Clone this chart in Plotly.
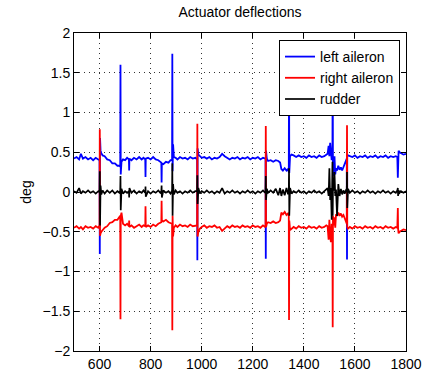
import plotly.graph_objects as go

# shared time base (s)
t = [500, 510, 520, 527, 535, 545, 555, 565, 575, 585, 595,
     600, 601, 602, 604, 607, 612, 620, 630, 640, 650, 660, 670, 678,
     681, 682, 683, 686, 692, 700, 708,
     715, 716, 717, 725, 735, 745, 755, 765, 772,
     779, 780, 781, 790, 800, 810, 820, 830, 838,
     842, 843, 844, 850, 860, 870, 878,
     884, 885, 886, 888, 891, 898, 905, 915, 925, 935, 945, 955, 965, 975,
     982, 983, 984, 987, 993, 1000, 1010, 1020, 1030, 1040, 1050, 1060, 1070, 1080, 1090, 1100,
     1110, 1120, 1130, 1140, 1150, 1160, 1170, 1180, 1190, 1200, 1210, 1220, 1230, 1240, 1248,
     1250, 1251, 1252, 1255, 1260, 1270, 1280, 1290, 1300, 1307, 1312, 1318, 1325, 1332, 1338,
     1341, 1342, 1343, 1346, 1352, 1360, 1370, 1380, 1390, 1400, 1410, 1420, 1430, 1440, 1450,
     1460, 1470, 1480, 1488,
     1493, 1497, 1500, 1503, 1506, 1509, 1512, 1513, 1514, 1517, 1520, 1523, 1526, 1530, 1535,
     1540, 1545, 1550, 1555, 1560, 1565,
     1568, 1569, 1570, 1573, 1580, 1590, 1600, 1610, 1620, 1630, 1640, 1650, 1660, 1670, 1680,
     1690, 1700, 1710, 1720, 1730, 1740, 1750, 1760, 1766,
     1768, 1769, 1771, 1775, 1780, 1790, 1800]

left_aileron = [0.42, 0.44, 0.41, 0.48, 0.42, 0.44, 0.41, 0.43, 0.40, 0.43, 0.41,
                0.40, -0.78, 0.68, 0.52, 0.49, 0.46, 0.45, 0.41, 0.40, 0.36, 0.36, 0.33, 0.33,
                0.32, 1.60, 0.22, 0.38, 0.41, 0.40, 0.43,
                0.41, 0.27, 0.42, 0.40, 0.43, 0.41, 0.44, 0.41, 0.43,
                0.41, 0.19, 0.42, 0.43, 0.41, 0.44, 0.41, 0.40, 0.38,
                0.37, 0.12, 0.36, 0.35, 0.38, 0.37, 0.40,
                0.40, 1.74, 0.26, 0.60, 0.44, 0.43, 0.41, 0.44, 0.42, 0.43, 0.41, 0.44, 0.42, 0.43,
                0.41, -0.86, 0.55, 0.47, 0.45, 0.43, 0.44, 0.42, 0.44, 0.41, 0.43, 0.42, 0.44, 0.48, 0.45, 0.43,
                0.41, 0.43, 0.42, 0.44, 0.41, 0.43, 0.42, 0.44, 0.41, 0.43, 0.42, 0.44, 0.41, 0.43, 0.42,
                0.42, -0.84, 0.52, 0.42, 0.39, 0.40, 0.38, 0.40, 0.39, 0.37, 0.29, 0.27, 0.30, 0.27, 0.29,
                0.25, 1.62, 0.24, 0.45, 0.47, 0.46, 0.44, 0.46, 0.44, 0.45, 0.43, 0.46, 0.44, 0.45, 0.43,
                0.46, 0.44, 0.45, 0.47,
                0.48, 0.58, 0.45, 0.62, 0.50, 0.40, 0.55, 1.80, 0.20, 0.33, 0.45, 0.22, 0.30, 0.27, 0.33,
                0.28, 0.31, 0.27, 0.32, 0.36, 0.40,
                0.42, -0.85, 0.47, 0.46, 0.45, 0.44, 0.46, 0.43, 0.45, 0.44, 0.46, 0.43, 0.45, 0.44, 0.46,
                0.43, 0.45, 0.44, 0.46, 0.43, 0.45, 0.44, 0.45, 0.44,
                0.18, 0.44, 0.52, 0.50, 0.49, 0.47, 0.48]

right_aileron = [-0.45, -0.43, -0.46, -0.44, -0.47, -0.43, -0.45, -0.44, -0.46, -0.43, -0.45,
                 -0.42, 0.79, -0.55, -0.52, -0.50, -0.48, -0.45, -0.43, -0.39, -0.38, -0.35, -0.35, -0.32,
                 -0.30, -1.60, -0.30, -0.26, -0.40, -0.42, -0.40,
                 -0.43, -0.36, -0.44, -0.42, -0.45, -0.43, -0.41, -0.44, -0.42,
                 -0.43, -0.18, -0.44, -0.42, -0.44, -0.41, -0.43, -0.40, -0.39,
                 -0.38, -0.11, -0.36, -0.37, -0.35, -0.38, -0.39,
                 -0.40, -1.74, -0.30, -0.56, -0.45, -0.42, -0.44, -0.41, -0.43, -0.42, -0.44, -0.41, -0.43, -0.42,
                 -0.42, 0.86, -0.56, -0.50, -0.46, -0.44, -0.42, -0.45, -0.43, -0.44, -0.42, -0.45, -0.44, -0.49, -0.46, -0.43,
                 -0.45, -0.42, -0.44, -0.43, -0.45, -0.42, -0.44, -0.43, -0.45, -0.42, -0.44, -0.43, -0.45, -0.42, -0.44,
                 -0.43, 0.83, -0.44, -0.40, -0.38, -0.39, -0.37, -0.39, -0.38, -0.36, -0.26, -0.28, -0.25, -0.29, -0.27,
                 -0.30, -1.61, -0.36, -0.48, -0.46, -0.44, -0.46, -0.43, -0.45, -0.44, -0.46, -0.43, -0.45, -0.44, -0.46,
                 -0.43, -0.45, -0.44, -0.42,
                 -0.43, -0.60, -0.35, -0.55, -0.63, -0.40, -0.45, -1.70, -0.30, -0.42, -0.32, -0.45, -0.28, -0.30, -0.26,
                 -0.30, -0.27, -0.31, -0.29, -0.33, -0.37,
                 -0.40, 0.84, -0.44, -0.46, -0.44, -0.46, -0.43, -0.45, -0.44, -0.46, -0.43, -0.45, -0.44, -0.46, -0.43,
                 -0.45, -0.44, -0.46, -0.43, -0.45, -0.44, -0.46, -0.44, -0.45,
                 -0.20, -0.46, -0.52, -0.50, -0.49, -0.47, -0.48]

rudder = [0.01, -0.01, 0.05, -0.02, 0.01, -0.01, 0.02, -0.01, 0.01, -0.02, 0.01,
          0.00, 0.26, -0.42, 0.08, -0.03, 0.02, -0.02, 0.02, -0.01, 0.02, -0.02, 0.01, -0.01,
          0.02, 0.20, -0.23, 0.04, -0.02, 0.01, -0.01,
          0.01, -0.07, 0.05, -0.01, 0.02, -0.02, 0.01, -0.01, 0.02,
          -0.01, 0.07, -0.06, 0.01, -0.02, 0.01, -0.01, 0.02, -0.01,
          0.01, 0.08, -0.07, 0.02, -0.01, 0.01, -0.02,
          0.02, 0.36, -0.30, 0.10, -0.03, 0.02, -0.01, 0.01, -0.02, 0.01, -0.01, 0.02, -0.01, 0.01,
          0.01, 0.21, -0.15, 0.05, -0.02, 0.01, -0.01, 0.02, -0.01, 0.01, -0.02, 0.01, -0.01, 0.05, -0.02, 0.01,
          -0.01, 0.02, -0.01, 0.01, -0.02, 0.01, -0.01, 0.02, -0.01, 0.01, -0.02, 0.01, -0.01, 0.02, -0.01,
          0.01, 0.20, -0.10, 0.04, -0.01, 0.02, -0.01, 0.04, -0.04, 0.05, -0.05, 0.03, -0.04, 0.05, -0.03,
          0.02, 0.30, -0.30, 0.05, -0.02, 0.01, -0.01, 0.02, -0.01, 0.01, -0.02, 0.01, -0.01, 0.02, -0.01,
          0.01, -0.02, 0.01, 0.03,
          0.05, -0.05, 0.30, -0.10, 0.05, -0.35, 0.38, -0.30, 0.05, 0.02, 0.25, -0.05, 0.03, -0.30, 0.10,
          -0.05, 0.04, -0.03, 0.02, -0.02, 0.02,
          0.01, 0.25, -0.20, 0.04, -0.01, 0.02, -0.01, 0.01, -0.02, 0.01, -0.01, 0.02, -0.01, 0.01, -0.02,
          0.01, -0.01, 0.02, -0.01, 0.01, -0.02, 0.01, -0.01, 0.02,
          0.05, -0.05, 0.02, -0.01, 0.01, -0.01, 0.01]

assert len(t) == len(left_aileron) == len(right_aileron) == len(rudder)

series_names = ["left aileron", "right aileron", "rudder"]
series_colors = ["#0000ff", "#ff0000", "#000000"]

x_ticks = [600, 800, 1000, 1200, 1400, 1600, 1800]
x_tick_labels = ["600", "800", "1000", "1200", "1400", "1600", "1800"]
y_ticks = [-2, -1.5, -1, -0.5, 0, 0.5, 1, 1.5, 2]
y_tick_labels = ["\u22122", "\u22121.5", "\u22121", "\u22120.5", "0", "0.5", "1", "1.5", "2"]

fig = go.Figure()
for name, vals, col, w in zip(series_names, [left_aileron, right_aileron, rudder],
                              series_colors, [1.8, 1.8, 1.7]):
    fig.add_trace(go.Scatter(x=t, y=vals, mode="lines", name=name,
                             line=dict(color=col, width=w)))

axis_common = dict(showline=True, linecolor="black", linewidth=1, mirror="ticks",
                   ticks="inside", ticklen=5, tickcolor="black", automargin=False,
                   showgrid=True, gridcolor="#333333", gridwidth=1, griddash="1px,4px",
                   zeroline=False, tickfont=dict(size=14, color="black"))

fig.update_layout(
    width=427, height=374,
    margin=dict(l=74, r=21, t=33, b=23, autoexpand=False),
    paper_bgcolor="white", plot_bgcolor="white",
    font=dict(family="Liberation Sans, Arial, sans-serif", size=14, color="black"),
    title=dict(text="Actuator deflections", x=0.5, xref="paper", xanchor="center",
               y=1 - 12 / 374, yref="container", yanchor="middle",
               font=dict(size=14, color="black")),
    xaxis=dict(range=[500, 1800], tickvals=x_ticks, ticktext=x_tick_labels, **axis_common),
    yaxis=dict(range=[-2, 2], tickvals=y_ticks, ticktext=y_tick_labels,
               title=dict(text="deg", standoff=7, font=dict(size=14)), **axis_common),
    legend=dict(x=0.982, y=0.978, xanchor="right", yanchor="top",
                bgcolor="white", bordercolor="black", borderwidth=1,
                font=dict(size=14), tracegroupgap=0),
    showlegend=True,
)

fig.write_html("out.html")
